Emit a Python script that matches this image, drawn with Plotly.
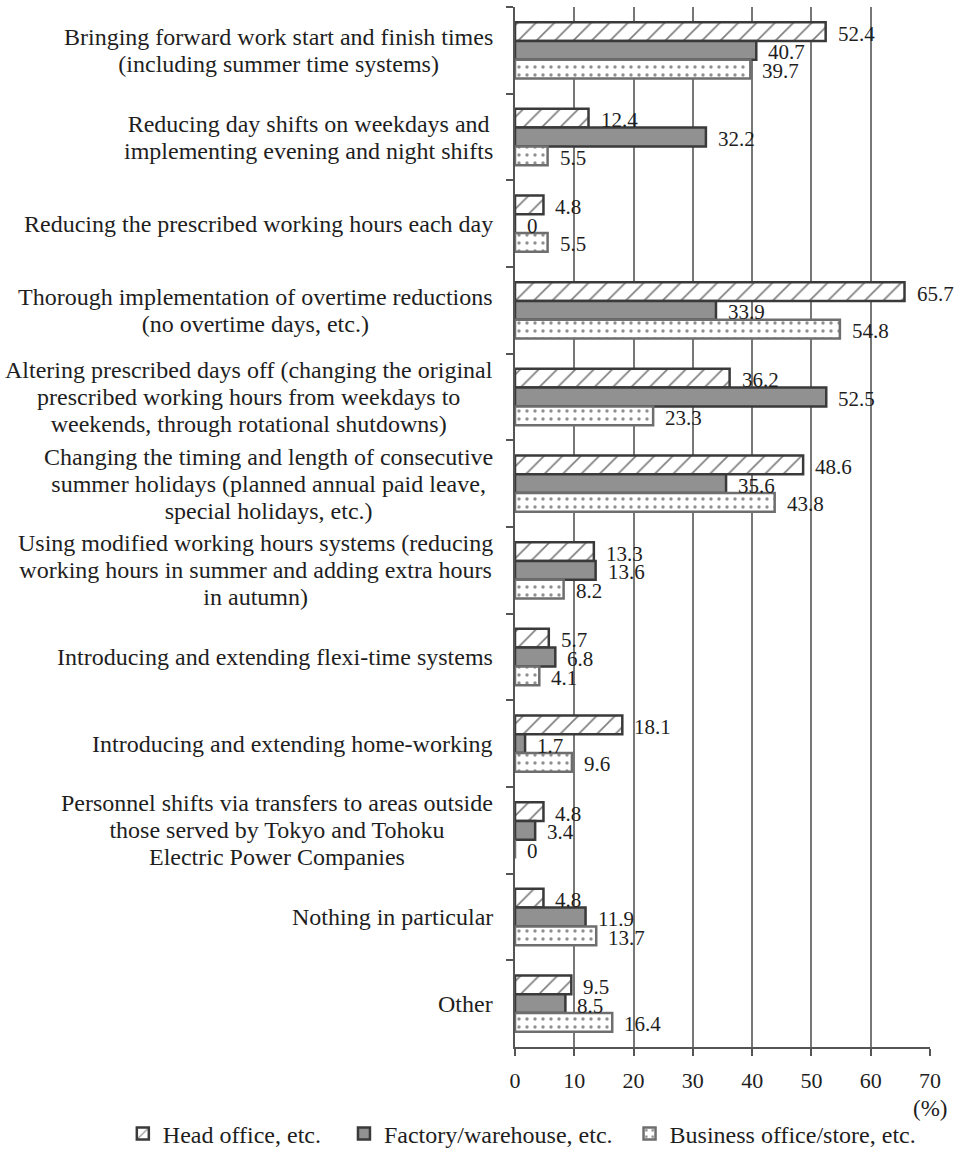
import plotly.graph_objects as go

categories = [
    "Bringing forward work start and finish times<br>(including summer time systems)",
    "Reducing day shifts on weekdays and<br>implementing evening and night shifts",
    "Reducing the prescribed working hours each day",
    "Thorough implementation of overtime reductions<br>(no overtime days, etc.)",
    "Altering prescribed days off (changing the original<br>prescribed working hours from weekdays to<br>weekends, through rotational shutdowns)",
    "Changing the timing and length of consecutive<br>summer holidays (planned annual paid leave,<br>special holidays, etc.)",
    "Using modified working hours systems (reducing<br>working hours in summer and adding extra hours<br>in autumn)",
    "Introducing and extending flexi-time systems",
    "Introducing and extending home-working",
    "Personnel shifts via transfers to areas outside<br>those served by Tokyo and Tohoku<br>Electric Power Companies",
    "Nothing in particular",
    "Other",
]
head_office = [52.4, 12.4, 4.8, 65.7, 36.2, 48.6, 13.3, 5.7, 18.1, 4.8, 4.8, 9.5]
factory = [40.7, 32.2, 0, 33.9, 52.5, 35.6, 13.6, 6.8, 1.7, 3.4, 11.9, 8.5]
business = [39.7, 5.5, 5.5, 54.8, 23.3, 43.8, 8.2, 4.1, 9.6, 0, 13.7, 16.4]
series_names = ["Head office, etc.", "Factory/warehouse, etc.", "Business office/store, etc."]
x_ticks = [0, 10, 20, 30, 40, 50, 60, 70]

FONT = "Liberation Serif"
TXT = "#1e1e1e"
EDGE = "#3a3a3a"
NB = "\u00a0"  # trailing spacing between legend entries

fig = go.Figure()
fig.add_trace(go.Bar(
    y=categories, x=head_office, orientation="h", name=series_names[0] + NB * 3,
    marker=dict(color="white", line=dict(color=EDGE, width=2.5),
                pattern=dict(shape="/", fgcolor="#000000", bgcolor="white", size=13, solidity=0.13)),
))
fig.add_trace(go.Bar(
    y=categories, x=factory, orientation="h", name=series_names[1] + NB * 2,
    marker=dict(color="#919191", line=dict(color=EDGE, width=2.5)),
))
fig.add_trace(go.Bar(
    y=categories, x=business, orientation="h", name=series_names[2],
    marker=dict(color="white", line=dict(color="#6e6e6e", width=2.5),
                pattern=dict(shape=".", fgcolor="#222222", bgcolor="white", size=8, solidity=0.14)),
))

# geometry helpers for label placement
H = 1152
MT, MB = 7, 105
pitch = (H - MT - MB) / len(categories)
bargap = 0.35
bw = pitch * (1 - bargap) / 3

annotations = []
for vals, dy in ((head_office, bw), (factory, 0), (business, -bw)):
    for c, v in zip(categories, vals):
        annotations.append(dict(
            x=v, y=c, xref="x", yref="y", text=f"{v:g}", showarrow=False,
            xanchor="left", yanchor="middle", xshift=10, yshift=dy - 2,
            font=dict(family=FONT, size=21, color=TXT),
        ))
for c in categories:
    # line pitch comes from the outer font size, glyphs from the inner span
    txt = "<br>".join(f"<span style='font-size:24px'>{ln}</span>" for ln in c.split("<br>"))
    annotations.append(dict(
        x=0, y=c, xref="paper", yref="y", text=txt, showarrow=False,
        xanchor="right", yanchor="middle", xshift=-20, align="center",
        font=dict(family=FONT, size=20.8, color=TXT),
    ))
annotations.append(dict(
    x=1, y=0, xref="paper", yref="paper", text="(%)", showarrow=False,
    xanchor="center", yanchor="top", xshift=0, yshift=-47,
    font=dict(family=FONT, size=23, color=TXT),
))

fig.update_layout(
    width=965, height=H,
    margin=dict(l=515, r=35, t=MT, b=MB, autoexpand=False),
    paper_bgcolor="white", plot_bgcolor="white",
    barmode="group", bargap=bargap, bargroupgap=0,
    font=dict(family=FONT, size=21, color=TXT),
    showlegend=True,
    legend=dict(orientation="h", xref="paper", yref="paper",
                x=-0.945, xanchor="left", y=-0.062, yanchor="top",
                font=dict(family=FONT, size=24, color=TXT),
                itemwidth=30, traceorder="normal", tracegroupgap=0),
    annotations=annotations,
    xaxis=dict(range=[0, 70], tickvals=x_ticks, showgrid=True, gridcolor="#777777", gridwidth=2,
               showline=True, linecolor="#555555", linewidth=2,
               ticks="outside", ticklen=7, tickwidth=2, tickcolor="#555555",
               tickfont=dict(family=FONT, size=22, color=TXT), ticklabelstandoff=6,
               zeroline=False),
    yaxis=dict(autorange="reversed", showticklabels=False, showgrid=False,
               showline=True, linecolor="#555555", linewidth=2,
               ticks="outside", ticklen=7, tickwidth=2, tickcolor="#555555",
               tickson="boundaries", zeroline=False),
)

fig.write_html("out.html")
